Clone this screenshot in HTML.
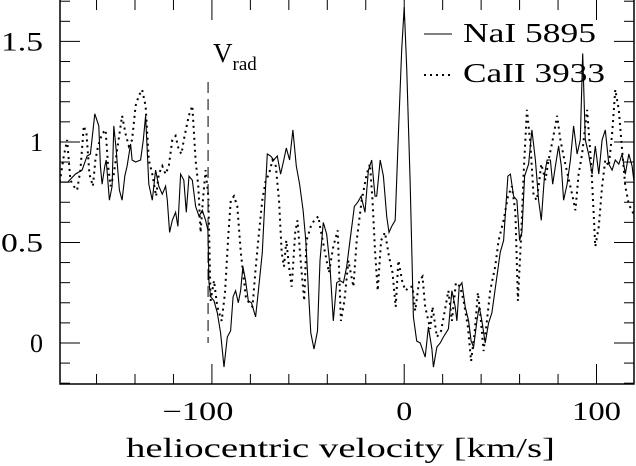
<!DOCTYPE html>
<html><head><meta charset="utf-8"><style>
html,body{margin:0;padding:0;background:#fff;}
svg{display:block;font-family:"Liberation Serif",serif;}
</style></head><body>
<svg id="chart" width="636" height="466" viewBox="0 0 636 466" xmlns="http://www.w3.org/2000/svg">
<defs><clipPath id="clip"><rect x="60" y="0" width="574" height="384"/></clipPath></defs>
<g id="marks" clip-path="url(#clip)"></g>
<g id="axes"></g>
</svg>
<script>
const naiX=[-179,-175,-171,-167.5,-164.9,-163.2,-160.9,-158.8,-158,-157.1,-155.7,-155,-153.3,-151.9,-151,-149.8,-148.8,-148.1,-146.7,-145.3,-144.1,-142.3,-141.5,-139.7,-137.1,-135.7,-134.5,-132.8,-131,-129.3,-127.6,-125.8,-124.1,-123.2,-122,-120.6,-118.9,-117.7,-116.3,-114.6,-113.3,-111.9,-110.2,-108.5,-106.7,-105,-103.3,-102.1,-101.5,-100.7,-98.9,-97.2,-95.5,-93.7,-92,-90.3,-89,-87.7,-86.3,-85.1,-83.9,-82.5,-81.1,-79.4,-77.3,-75.6,-73.8,-72.1,-71.2,-69.5,-67.8,-66,-64.3,-62.6,-61.3,-59.6,-57.9,-56.1,-54.4,-52.6,-51.2,-49.5,-48.6,-46.9,-45.1,-43.8,-42.1,-40.3,-38.6,-36.9,-35.1,-33.4,-31.6,-29.9,-28.2,-25.9,-24.2,-22.4,-20.4,-18.6,-16.9,-15.2,-14.3,-12.5,-10.8,-9.1,-7.9,-6.5,-4.7,-3,-1.3,0,1.3,3.1,4.8,6.5,8.3,10.9,12.6,14.4,15.2,17,18.7,20.4,23,24.8,26.5,27.4,28.6,30,31.7,33.5,34.8,36.1,37.8,39,40.4,42.1,43.9,45.6,48.2,49.9,51.7,53.9,55.2,56.9,58.6,60,61.2,62.6,64.7,66.4,68.2,69.9,71.3,73,74.3,76,77.2,78.6,80.3,81.7,82.9,84.7,86.4,88.1,89.9,91.6,92.8,94.2,95.9,97.7,99.4,101.2,102.9,104.6,106.4,108.1,109.8,111.6,113.3,115,116.8,118.5,119.4];
const naiY=[0.80,0.80,0.84,0.86,0.93,0.94,1.14,1.08,0.88,0.79,0.88,0.91,0.71,0.78,1.08,0.96,0.84,0.76,0.71,0.83,0.88,0.99,0.91,0.90,0.91,1.01,1.13,0.79,0.71,0.86,0.78,0.74,0.78,0.71,0.55,0.61,0.65,0.58,0.84,0.81,0.65,0.83,0.81,0.68,0.63,0.66,0.61,0.56,0.30,0.23,0.21,0.15,0.05,-0.12,0.03,0.06,0.23,0.26,0.20,0.26,0.38,0.31,0.21,0.20,0.13,0.28,0.45,0.78,0.94,0.93,0.91,0.93,0.84,0.91,0.97,0.91,1.06,0.88,0.79,0.66,0.51,0.21,0.05,-0.03,0.06,0.41,0.60,0.54,0.38,0.11,0.30,0.31,0.30,0.38,0.51,0.68,0.70,0.73,0.65,0.86,0.91,0.73,0.73,0.91,0.83,0.63,0.55,0.58,0.61,1.04,1.46,1.67,1.37,0.79,0.13,0.01,0.00,-0.07,0.08,-0.03,-0.12,-0.02,0.00,0.03,0.07,0.26,0.18,0.11,0.28,0.30,0.18,0.11,0.01,-0.02,0.11,0.18,0.11,0.00,0.10,0.15,0.33,0.45,0.51,0.83,0.84,0.73,0.71,0.51,0.55,0.83,0.89,1.06,0.91,0.71,0.61,0.84,0.91,0.91,0.79,0.88,0.98,0.88,0.71,0.79,0.91,1.08,0.94,1.01,1.44,1.01,0.94,0.84,0.98,0.84,1.01,1.06,0.89,0.86,0.91,0.89,0.94,0.84,0.94,0.88,0.81];
const caX=[-179.1,-177,-175.3,-173.6,-171.8,-170.1,-168.4,-166.6,-165.2,-163.7,-161.9,-160.6,-159.2,-157.1,-155.3,-154,-152.7,-151,-149.3,-146.7,-144.9,-143.2,-141.5,-139.7,-138,-136.3,-134.5,-132.8,-131,-129,-127.6,-125.8,-124.1,-122.4,-120.6,-118.9,-117.2,-115.8,-114.6,-112,-110.2,-108.5,-107.1,-105.9,-104.7,-103.3,-101.9,-100.7,-98.9,-97.2,-94.9,-93.2,-91.4,-90.2,-88.5,-86.8,-85,-82.4,-80.7,-78.9,-77.2,-75.5,-73.8,-72,-70.3,-68.5,-66.8,-65.1,-63.7,-62.5,-61.3,-59.9,-58.5,-56.7,-55.5,-53.8,-52,-50.8,-48.6,-46.8,-44.6,-43.8,-41.2,-39.1,-36.9,-34.6,-32.9,-31.1,-29,-26.4,-24.7,-22.1,-19.5,-17.8,-16.5,-15.2,-13.8,-12,-10,-7.9,-6.1,-4.4,-3,-0.9,0.8,2.6,4.3,5.7,7.8,9.5,10.9,13.5,14.7,17,19.2,20.9,23,24.8,26.9,29.1,30.9,33.1,34.8,36.6,38.3,39.5,41.3,43,44.7,47.3,49.1,51.7,54,56,57.8,59.1,60.9,62.1,63.8,65.6,67.3,69,71.3,73.4,75.1,77.2,79.5,81.2,82.9,85.2,87.3,89,90.7,92.5,95.1,97.3,99.4,101.2,102.9,104.6,106.4,108.1,109.8,111.6,113.3,115,116.8,119.4];
const caY=[0.80,0.93,1.01,0.81,0.78,0.76,0.86,1.08,1.04,0.84,0.78,0.91,0.98,1.04,1.06,0.88,0.78,0.84,0.96,1.13,1.04,0.98,1.01,1.18,1.23,1.26,1.18,0.91,0.84,0.73,0.84,0.88,0.84,0.88,1.01,1.03,0.96,0.94,1.01,1.13,1.18,0.91,0.78,0.55,0.71,0.86,0.73,0.21,0.31,0.18,0.11,0.25,0.55,0.71,0.73,0.68,0.45,0.23,0.20,0.18,0.38,0.55,0.71,0.81,0.84,0.91,0.88,0.71,0.45,0.38,0.51,0.38,0.28,0.55,0.61,0.40,0.21,0.51,0.58,0.61,0.63,0.58,0.45,0.35,0.48,0.56,0.11,0.21,0.41,0.28,0.51,0.71,0.84,0.89,0.71,0.46,0.26,0.51,0.55,0.43,0.35,0.18,0.41,0.30,0.26,0.28,0.28,0.16,0.31,0.33,0.18,0.07,0.18,0.03,0.06,0.15,0.26,0.11,0.30,0.28,0.21,0.08,-0.09,0.05,0.25,0.15,-0.04,0.11,0.26,0.38,0.51,0.61,0.73,0.78,0.65,0.21,0.55,0.84,1.16,0.99,0.73,0.71,0.89,0.81,0.91,1.01,1.13,1.01,0.93,0.83,0.74,0.66,0.84,0.94,1.16,0.88,0.48,0.58,0.78,0.91,0.88,1.04,1.26,1.16,0.96,0.78,0.69,0.64];
const xTicks=[-100,0,100];
const xTickLabels=["\u2212100","0","100"];
const yTicks=[0,0.5,1,1.5];
const yTickLabels=["0","0.5","1","1.5"];
const vrad=-102;

const L=60,R=634,T=0,B=384,XMIN=-179,XMAX=119.5,YMIN=-0.204,YMAX=1.706;
const sx=v=>L+(v-XMIN)/(XMAX-XMIN)*(R-L);
const sy=v=>T+(YMAX-v)/(YMAX-YMIN)*(B-T);
const NS="http://www.w3.org/2000/svg";
function mk(tag,attrs,parent,text){const e=document.createElementNS(NS,tag);for(const k in attrs)e.setAttribute(k,attrs[k]);if(text!==undefined)e.textContent=text;parent.appendChild(e);return e;}
const marks=document.getElementById('marks'),axes=document.getElementById('axes');

let d1=naiX.map((x,i)=>(i?'L':'M')+sx(x).toFixed(1)+' '+sy(naiY[i]).toFixed(1)).join(' ');
const p1=mk('path',{d:d1,fill:'none',stroke:'#000','stroke-width':1.1},marks);


let d2=caX.map((x,i)=>(i?'L':'M')+sx(x).toFixed(1)+' '+sy(caY[i]).toFixed(1)).join(' ');
const p2=mk('path',{d:d2,fill:'none',stroke:'#000','stroke-width':2,'stroke-dasharray':'2 4'},marks);



const vl=mk('line',{x1:sx(vrad),x2:sx(vrad),y1:82,y2:sy(0),stroke:'#000','stroke-width':1,'stroke-dasharray':'11 6'},axes);


const vt=mk('text',{x:213,y:62,'font-size':27},axes);


vt.innerHTML='V<tspan dy="8" font-size="19">rad</tspan>';

const fr=mk('rect',{x:L,y:T-1,width:R-L,height:B-T+1,fill:'none',stroke:'#000','stroke-width':1.5},axes);



for(let v=-160;v<=110;v+=20){const X=sx(v);const big=(v%100===0);const len=big?20:10;
 const a=mk('line',{x1:X,x2:X,y1:B,y2:B-len,stroke:'#000','stroke-width':1},axes);
 
 
 const b=mk('line',{x1:X,x2:X,y1:T,y2:T+len,stroke:'#000','stroke-width':1},axes);
 
 }
for(let k=-2;k<=17;k++){const v=k/10;const Y=sy(v);const big=(k%5===0);const len=big?20:10;
 const a=mk('line',{x1:L,x2:L+len,y1:Y,y2:Y,stroke:'#000','stroke-width':1},axes);
 
 
 const b=mk('line',{x1:R,x2:R-len,y1:Y,y2:Y,stroke:'#000','stroke-width':1},axes);
 
 }
xTicks.forEach((v,i)=>{const lab=xTickLabels[i];const w=lab.length===1?16:(lab.length===3?49:71);
 const t=mk('text',{x:sx(v)+(lab.length===4?-14:0),y:420,'font-size':26,'text-anchor':'middle',textLength:w,lengthAdjust:'spacingAndGlyphs'},axes,lab);
 
 });
yTicks.forEach((v,i)=>{const lab=yTickLabels[i];const attrs={x:43,y:sy(v)+9,'font-size':26,'text-anchor':'end'};
 if(lab.length>1){attrs.textLength=42;attrs.lengthAdjust='spacingAndGlyphs';}
 const t=mk('text',attrs,axes,lab);
 
 });
const xt=mk('text',{x:126,y:457,'font-size':27,textLength:429,lengthAdjust:'spacingAndGlyphs'},axes,'heliocentric velocity [km/s]');



const g1=mk('line',{x1:424,x2:452,y1:34,y2:34,stroke:'#000','stroke-width':1.1},axes);


const l1=mk('text',{x:463,y:42,'font-size':27,textLength:133,lengthAdjust:'spacingAndGlyphs'},axes,'NaI 5895');


const g2=mk('line',{x1:424,x2:452,y1:75,y2:75,stroke:'#000','stroke-width':2,'stroke-dasharray':'2 4'},axes);


const l2=mk('text',{x:463,y:82,'font-size':27,textLength:142,lengthAdjust:'spacingAndGlyphs'},axes,'CaII 3933');


</script>
</body></html>
